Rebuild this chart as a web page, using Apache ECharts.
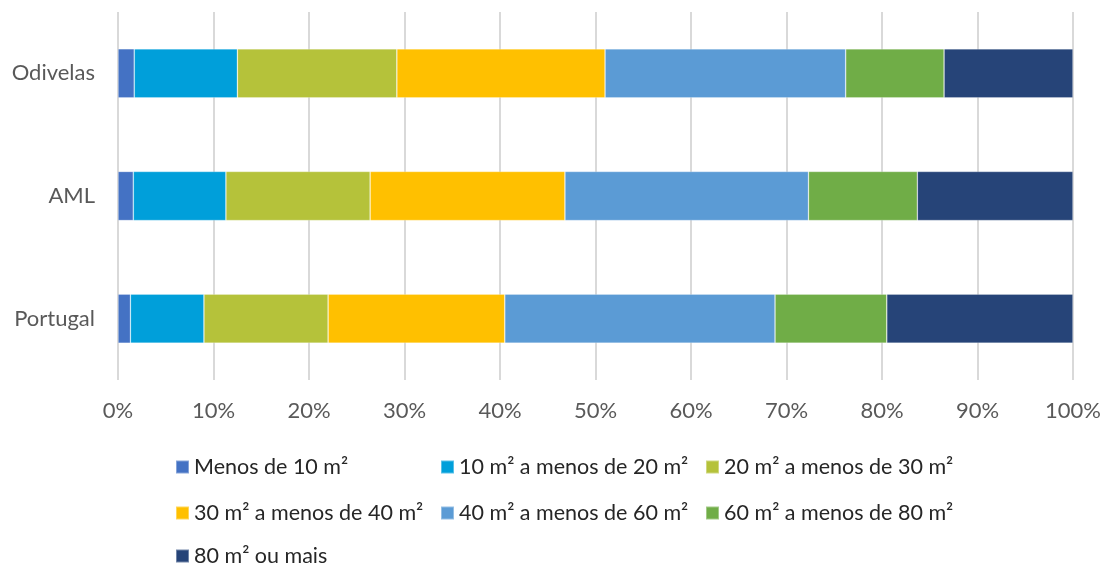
<!DOCTYPE html>
<html><head><meta charset="utf-8">
<script src="https://cdn.jsdelivr.net/npm/echarts@6/dist/echarts.min.js"></script>
<style>html,body{margin:0;padding:0;background:#fff}#c{width:1106px;height:565px}</style>
</head><body><div id="c"></div>
<script>
const categories = ['Portugal', 'AML', 'Odivelas'];
const seriesNames = ['Menos de 10 m²', '10 m² a menos de 20 m²', '20 m² a menos de 30 m²', '30 m² a menos de 40 m²', '40 m² a menos de 60 m²', '60 m² a menos de 80 m²', '80 m² ou mais'];
const sMenos10 = [1.3, 1.6, 1.7];
const s10a20 = [7.7, 9.7, 10.8];
const s20a30 = [13.0, 15.1, 16.7];
const s30a40 = [18.5, 20.4, 21.8];
const s40a60 = [28.3, 25.5, 25.2];
const s60a80 = [11.7, 11.4, 10.3];
const s80mais = [19.5, 16.3, 13.5];
const seriesValues = [sMenos10, s10a20, s20a30, s30a40, s40a60, s60a80, s80mais];
const colors = ['#4472C4', '#009FDA', '#B5C23A', '#FFC000', '#5B9BD5', '#70AD47', '#264478'];

const font = 'Lato, sans-serif';
const legendPos = [[170,451],[435,451],[700,451],[170,497],[435,497],[700,497],[170,540]];
const chart = echarts.init(document.getElementById('c'), null, {renderer: 'canvas'});
chart.setOption({
  animation: false,
  color: colors,
  grid: {left: 118, right: 33, top: 12, height: 368, containLabel: false},
  xAxis: {
    type: 'value', min: 0, max: 100, interval: 10,
    axisLine: {show: false}, axisTick: {show: false},
    axisLabel: {formatter: v => v + '%', color: '#595959', fontSize: 22, fontFamily: font, margin: 20},
    splitLine: {show: true, lineStyle: {color: '#D9D9D9', width: 2}}
  },
  yAxis: {
    type: 'category', data: categories,
    axisLine: {show: false}, axisTick: {show: false},
    axisLabel: {color: '#595959', fontSize: 22, fontFamily: font, margin: 23}
  },
  legend: seriesNames.map((n, i) => ({
    data: [n], left: legendPos[i][0], top: legendPos[i][1],
    itemWidth: 13, itemHeight: 13, icon: 'rect', itemGap: 6,
    textStyle: {color: '#262626', fontSize: 21.5, fontFamily: font, padding: [0,0,0,0]}
  })),
  series: seriesNames.map((n, i) => ({
    name: n, type: 'bar', stack: 'total', data: seriesValues[i],
    barCategoryGap: '60%',
    itemStyle: {borderColor: 'rgba(255,255,255,0.35)', borderWidth: 0.7}
  }))
});
</script></body></html>
